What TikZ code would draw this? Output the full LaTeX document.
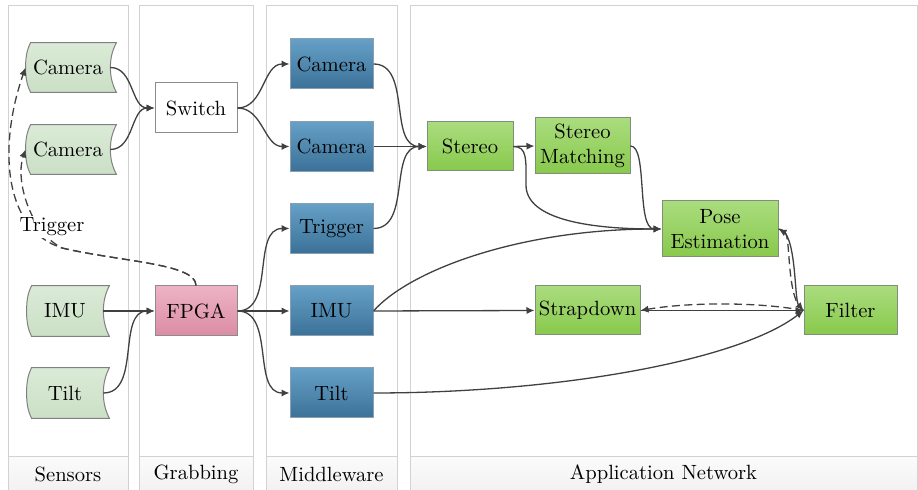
\documentclass[tikz,border=0pt]{standalone}
\usetikzlibrary{arrows.meta,calc}
\pgfdeclarelayer{lanes}
\pgfdeclarelayer{bg}
\pgfsetlayers{lanes,bg,main}
\definecolor{lanec}{HTML}{D2D2D2}
\definecolor{bartop}{HTML}{FBFBFB}
\definecolor{barbot}{HTML}{F1F1F1}
\definecolor{edgec}{HTML}{404040}
\definecolor{sentop}{HTML}{DAEAD6}
\definecolor{senbot}{HTML}{CBE0C6}
\definecolor{senbd}{HTML}{808080}
\definecolor{mwtop}{HTML}{66A0C6}
\definecolor{mwbot}{HTML}{3B7198}
\definecolor{mwbd}{HTML}{8AA0B0}
\definecolor{apptop}{HTML}{AADC7E}
\definecolor{appbot}{HTML}{88C94C}
\definecolor{appbd}{HTML}{7F8F78}
\definecolor{fptop}{HTML}{EDB3C5}
\definecolor{fpbot}{HTML}{DB8CA5}
\definecolor{boxbd}{HTML}{8C8C8C}
\tikzset{
  every node/.style={font=\fontsize{10.3}{12.2}\selectfont, text=black},
  lane/.style={draw=lanec, line width=0.5pt},
  barfill/.style={top color=bartop, bottom color=barbot, draw=none},
  sensornode/.style={inner sep=0pt, align=center, minimum height=24.5pt},
  sensorfill/.style={draw=senbd, line width=0.5pt, top color=sentop, bottom color=senbot},
  boxbase/.style={draw, line width=0.5pt, inner sep=0pt, align=center, minimum height=24.5pt},
  plainbox/.style={boxbase, draw=boxbd, fill=white, minimum width=41pt, minimum height=25pt},
  fpgabox/.style={boxbase, draw=boxbd, top color=fptop, bottom color=fpbot, minimum width=41pt, minimum height=25pt},
  mwbox/.style={boxbase, draw=mwbd, top color=mwtop, bottom color=mwbot, minimum width=41.5pt, minimum height=25pt},
  appbox/.style={boxbase, draw=appbd, top color=apptop, bottom color=appbot},
  conn/.style={draw=edgec, line width=0.65pt, -{Latex[length=4pt,width=3.6pt]}},
  trig/.style={conn, dash pattern=on 4pt off 2.2pt},
}
\newcommand{\drawsensor}[1]{%
  \begin{pgfonlayer}{bg}
  \path[sensorfill] ($(#1.north west)+(5,0)$) .. controls +(-4,8) and +(0,-10) .. (#1.west)
     .. controls +(0,10) and +(-4,-8) .. ($(#1.south west)+(5,0)$)
     -- ($(#1.south east)+(6,0)$) .. controls +(-4,-8) and +(0,10) .. (#1.east)
     .. controls +(0,-10) and +(-4,8) .. ($(#1.north east)+(6,0)$) -- cycle;
  \end{pgfonlayer}}
\begin{document}
\begin{tikzpicture}[x=0.5pt,y=-0.5pt]
\useasboundingbox (0,0) rectangle (918,490);
% lanes
\begin{pgfonlayer}{lanes}
  \foreach \xa/\xb in {8/128,139/253,266/397,410/917}{
    \path[barfill] (\xa,457) rectangle (\xb,492);
    \draw[lane] (\xa,492) -- (\xa,6) -- (\xb,6) -- (\xb,492);
    \draw[lane] (\xa,457) -- (\xb,457);
  }
  \node (lsens) at (68,474) {Sensors};
  \node (lgrab) at (196,474) {Grabbing};
  \node (lmid) at (331.5,474) {Middleware};
  \node (lapp) at (663.5,474) {Application Network};
\end{pgfonlayer}
% sensors
\node[sensornode, minimum width=42pt] (cam1) at (68,67.5) {Camera};
\node[sensornode, minimum width=42pt] (cam2) at (68,149.5) {Camera};
\node[sensornode, minimum width=38pt, minimum height=25pt] (imu) at (65,311) {IMU};
\node[sensornode, minimum width=38pt, minimum height=25pt] (tilt) at (65,393) {Tilt};
\drawsensor{cam1}\drawsensor{cam2}\drawsensor{imu}\drawsensor{tilt}
% grabbing
\node[plainbox] (sw) at (196,108) {Switch};
\node[fpgabox] (fpga) at (196,311) {FPGA};
% middleware
\node[mwbox] (mcam1) at (331.5,64) {Camera};
\node[mwbox] (mcam2) at (331.5,146.5) {Camera};
\node[mwbox] (mtrig) at (331.5,228.5) {Trigger};
\node[mwbox] (mimu) at (331.5,311) {IMU};
\node[mwbox] (mtilt) at (331.5,393) {Tilt};
% application
\node[appbox, minimum width=43pt] (stereo) at (470,146.5) {Stereo};
\node[appbox, minimum width=47.5pt, minimum height=28pt] (sm) at (582.5,146) {Stereo\\Matching};
\node[appbox, minimum width=58pt, minimum height=28pt] (pose) at (720,229) {Pose\\Estimation};
\node[appbox, minimum width=52.5pt] (strap) at (587.5,310.5) {Strapdown};
\node[appbox, minimum width=46.5pt] (filter) at (850.5,310.5) {Filter};
\coordinate (tsplit) at (62,248);
% connectors
\draw[conn] (cam1.east) to[out=0,in=180] (sw.west);
\draw[conn] (cam2.east) to[out=0,in=180] (sw.west);
\draw[conn] (sw.east) to[out=0,in=180] (mcam1.west);
\draw[conn] (sw.east) to[out=0,in=180] (mcam2.west);
\draw[conn] (imu.east) -- (fpga.west);
\draw[conn] (tilt.east) to[out=0,in=180] (fpga.west);
\draw[conn] (fpga.east) to[out=0,in=180] (mtrig.west);
\draw[conn] (fpga.east) -- (mimu.west);
\draw[conn] (fpga.east) to[out=0,in=180] (mtilt.west);
\draw[trig] (fpga.north) .. controls +(0,-22) and +(60,14) .. (tsplit)
   .. controls (0,228) and (0,140) .. (cam1.west);
\draw[trig] (fpga.north) .. controls +(0,-22) and +(60,14) .. (tsplit)
   .. controls (30,232) and (15,180) .. (cam2.west);
\node[fill=white, inner sep=1pt] (triglabel) at (52,227) {Trigger};
\draw[conn] (mcam1.east) to[out=0,in=180] (stereo.west);
\draw[conn] (mcam2.east) -- (stereo.west);
\draw[conn] (mtrig.east) to[out=0,in=180] (stereo.west);
\draw[conn] (stereo.east) -- (sm.west);
\draw[conn] (stereo.east) .. controls +(14,0) and +(0,-25) .. (526,185)
   .. controls +(0,35) and +(-70,0) .. (pose.west);
\draw[conn] (sm.east) .. controls (648,146) and (636,229) .. (pose.west);
\draw[conn] (mimu.east) .. controls (410,270) and (520,229) .. (pose.west);
\draw[conn] (mimu.east) -- (strap.west);
\draw[conn] (mtilt.east) .. controls (560,393) and (740,360) .. (filter.west);
\draw[conn] (strap.east) -- (filter.west);
\draw[trig] (filter.west) .. controls (760,302) and (690,302) .. (strap.east);
\draw[conn] (pose.east) .. controls (797,229) and (794,300) .. (filter.west);
\draw[trig] (filter.west) .. controls (786,300) and (791,236) .. (pose.east);
\end{tikzpicture}
\end{document}
